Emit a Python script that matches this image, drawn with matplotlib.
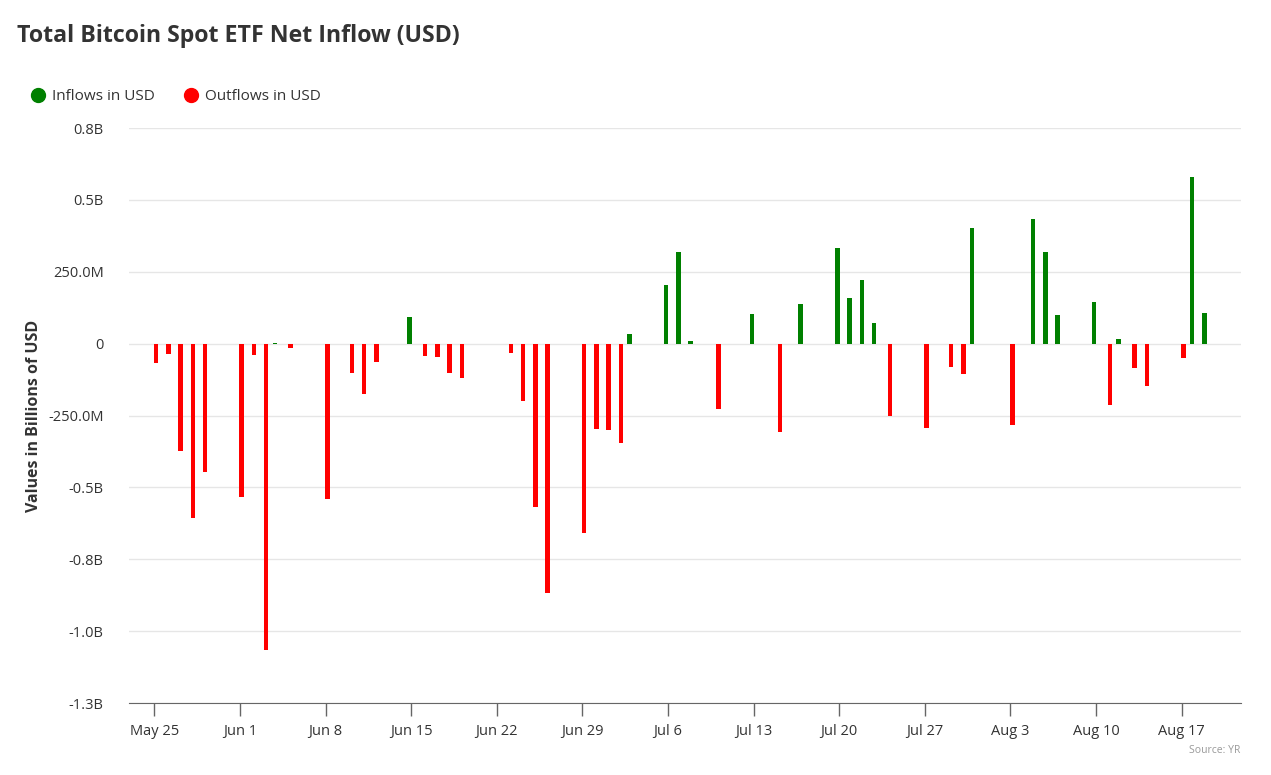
import matplotlib
matplotlib.use("Agg")
import matplotlib.pyplot as plt
import matplotlib.dates as mdates
from matplotlib.lines import Line2D
import pandas as pd

plt.rcParams['font.family'] = ['Open Sans', 'DejaVu Sans']

# Daily net flows in billions of USD
inflow_dates = ["2024-06-04", "2024-06-15", "2024-07-03", "2024-07-06", "2024-07-07",
                "2024-07-08", "2024-07-13", "2024-07-17", "2024-07-20", "2024-07-21",
                "2024-07-22", "2024-07-23", "2024-07-31", "2024-08-05", "2024-08-06",
                "2024-08-07", "2024-08-10", "2024-08-12", "2024-08-18", "2024-08-19"]
inflow_values = [0.003, 0.091, 0.034, 0.204, 0.319,
                 0.008, 0.103, 0.138, 0.334, 0.160,
                 0.221, 0.072, 0.403, 0.432, 0.320,
                 0.098, 0.146, 0.015, 0.581, 0.107]

outflow_dates = ["2024-05-25", "2024-05-26", "2024-05-27", "2024-05-28", "2024-05-29",
                 "2024-06-01", "2024-06-02", "2024-06-03", "2024-06-05", "2024-06-08",
                 "2024-06-10", "2024-06-11", "2024-06-12", "2024-06-16", "2024-06-17",
                 "2024-06-18", "2024-06-19", "2024-06-23", "2024-06-24", "2024-06-25",
                 "2024-06-26", "2024-06-29", "2024-06-30", "2024-07-01", "2024-07-02",
                 "2024-07-10", "2024-07-15", "2024-07-24", "2024-07-27", "2024-07-29",
                 "2024-07-30", "2024-08-03", "2024-08-11", "2024-08-13", "2024-08-14",
                 "2024-08-17"]
outflow_values = [-0.066, -0.036, -0.375, -0.605, -0.445,
                  -0.532, -0.040, -1.066, -0.015, -0.541,
                  -0.103, -0.175, -0.064, -0.042, -0.047,
                  -0.103, -0.120, -0.032, -0.198, -0.567,
                  -0.867, -0.659, -0.297, -0.302, -0.345,
                  -0.228, -0.309, -0.253, -0.292, -0.080,
                  -0.105, -0.284, -0.215, -0.083, -0.149,
                  -0.049]

y_ticks = [0.75, 0.5, 0.25, 0, -0.25, -0.5, -0.75, -1.0, -1.25]
y_tick_labels = ["0.8B", "0.5B", "250.0M", "0", "-250.0M", "-0.5B", "-0.8B", "-1.0B", "-1.3B"]
x_tick_dates = pd.date_range("2024-05-25", "2024-08-17", freq="7D")

GREEN = "#008000"
RED = "#ff0000"
TEXT = "#333333"

fig = plt.figure(figsize=(12.71, 7.75), dpi=100)
ax = fig.add_axes([0.1012, 0.0929, 0.8752, 0.7419])

x_in = mdates.date2num(pd.to_datetime(inflow_dates))
x_out = mdates.date2num(pd.to_datetime(outflow_dates))

# grouped look: inflow slot left, outflow slot right
ax.bar(x_in - 0.15, inflow_values, width=0.37, color=GREEN, zorder=3)
ax.bar(x_out + 0.15, outflow_values, width=0.37, color=RED, zorder=3)

start = mdates.date2num(pd.Timestamp("2024-05-25"))
ax.set_xlim(start - 2.1, start + 88.85)
ax.set_ylim(-1.25, 0.75)

ax.set_yticks(y_ticks)
ax.set_yticklabels(y_tick_labels)
ax.set_xticks(mdates.date2num(x_tick_dates))
ax.set_xticklabels([d.strftime("%b ") + str(d.day) for d in x_tick_dates])

ax.grid(axis="y", color="#e6e6e6", linewidth=1, zorder=0)
for s in ["top", "right", "left"]:
    ax.spines[s].set_visible(False)
ax.spines["bottom"].set_color("#666666")
ax.spines["bottom"].set_zorder(4)
ax.tick_params(axis="y", length=0, pad=18, labelsize=10.5, labelcolor=TEXT)
ax.tick_params(axis="x", length=9, width=1, color="#666666", pad=6,
               labelsize=10.5, labelcolor=TEXT)

ax.set_ylabel("Values in Billions of USD", fontsize=11.5, fontweight="bold",
              color=TEXT)
ax.yaxis.set_label_coords(-0.078, 0.5)

fig.text(0.0134, 0.953, "Total Bitcoin Spot ETF Net Inflow (USD)", fontsize=16.7,
         fontweight="bold", color=TEXT, va="center", ha="left")

handles = [Line2D([], [], marker="o", linestyle="none", markersize=10,
                  markerfacecolor=GREEN, markeredgecolor=GREEN, label="Inflows in USD"),
           Line2D([], [], marker="o", linestyle="none", markersize=10,
                  markerfacecolor=RED, markeredgecolor=RED, label="Outflows in USD")]
fig.legend(handles=handles, loc="center left", bbox_to_anchor=(0.012, 0.875),
           ncol=2, frameon=False, fontsize=11, handletextpad=0.3,
           columnspacing=1.8, labelcolor=TEXT, handlelength=1.2)

fig.text(0.976, 0.032, "Source: YR", fontsize=7.5, color="#999999",
         ha="right", va="center")

fig.savefig("out.png", dpi=100)
